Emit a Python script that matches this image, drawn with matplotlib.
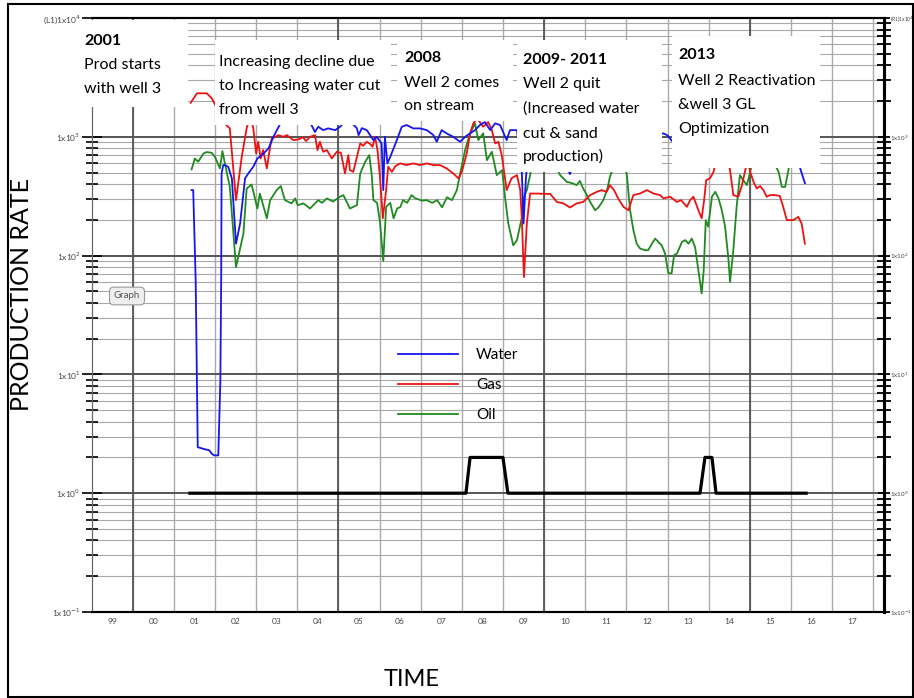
import matplotlib
matplotlib.use("Agg")
import matplotlib.pyplot as plt
from matplotlib.patches import Rectangle
from matplotlib.ticker import LogLocator, FuncFormatter, NullFormatter
import numpy as np

# ---- data ----
oil_t = [2001.43, 2001.51, 2001.59, 2001.72, 2001.80, 2001.92, 2002.00, 2002.12, 2002.18, 2002.24,
         2002.36, 2002.51, 2002.69, 2002.77, 2002.89, 2003.03, 2003.09, 2003.26, 2003.34, 2003.50,
         2003.60, 2003.70, 2003.86, 2003.95, 2004.01, 2004.15, 2004.31, 2004.51, 2004.60, 2004.72,
         2004.87, 2005.04, 2005.12, 2005.24, 2005.28, 2005.45, 2005.53, 2005.65, 2005.75, 2005.81,
         2005.85, 2005.94, 2006.01, 2006.09, 2006.16, 2006.26, 2006.34, 2006.43, 2006.50, 2006.57,
         2006.67, 2006.78, 2006.86, 2007.03, 2007.15, 2007.28, 2007.40, 2007.52, 2007.64, 2007.76,
         2007.88, 2007.96, 2008.08, 2008.15, 2008.24, 2008.32, 2008.40, 2008.52, 2008.61, 2008.73,
         2008.85, 2008.98, 2009.05, 2009.13, 2009.25, 2009.34, 2009.46, 2009.51, 2009.58, 2009.66,
         2009.78, 2010.03, 2010.19, 2010.39, 2010.55, 2010.68, 2010.79, 2010.87, 2010.95, 2011.04,
         2011.12, 2011.24, 2011.32, 2011.44, 2011.54, 2011.60, 2011.70, 2011.85, 2012.01, 2012.09,
         2012.17, 2012.25, 2012.33, 2012.45, 2012.53, 2012.62, 2012.70, 2012.78, 2012.86, 2012.94,
         2013.02, 2013.10, 2013.16, 2013.23, 2013.35, 2013.43, 2013.51, 2013.59, 2013.67, 2013.75,
         2013.83, 2013.88, 2013.93, 2013.99, 2014.08, 2014.16, 2014.24, 2014.32, 2014.40, 2014.48,
         2014.52, 2014.60, 2014.68, 2014.76, 2014.84, 2014.93, 2015.01, 2015.13, 2015.30, 2015.49,
         2015.70, 2015.78, 2015.86, 2015.94, 2016.03]
oil = [531, 657, 616, 724, 744, 733, 678, 542, 758, 597,
       379, 80, 153, 367, 397, 249, 333, 206, 293, 356,
       385, 293, 275, 303, 266, 275, 249, 293, 278, 303,
       285, 313, 323, 266, 249, 266, 492, 616, 701, 476,
       293, 278, 192, 90, 257, 278, 206, 250, 255, 293,
       278, 323, 305, 290, 293, 278, 293, 255, 310, 293,
       356, 492, 773, 938, 1138, 1297, 938, 1069, 636, 748,
       476, 524, 310, 186, 122, 135, 210, 310, 356, 476,
       773, 938, 636, 476, 418, 407, 392, 425, 367, 323,
       283, 241, 254, 293, 367, 460, 578, 773, 485, 241,
       164, 126, 115, 111, 111, 126, 139, 130, 122, 104,
       71, 71, 101, 104, 130, 135, 126, 139, 118, 75,
       48, 75, 199, 175, 313, 344, 303, 241, 175, 94,
       60, 111, 257, 476, 432, 392, 507, 773, 938, 701,
       507, 379, 379, 524, 938]

gas_t = [2001.41, 2001.56, 2001.80, 2001.92, 2002.07, 2002.27, 2002.36, 2002.51, 2002.65, 2002.77,
         2002.85, 2002.93, 2003.00, 2003.05, 2003.11, 2003.17, 2003.26, 2003.34, 2003.38, 2003.46,
         2003.54, 2003.66, 2003.75, 2003.82, 2003.90, 2004.03, 2004.14, 2004.21, 2004.31, 2004.43,
         2004.49, 2004.55, 2004.63, 2004.72, 2004.84, 2004.96, 2005.06, 2005.16, 2005.24, 2005.28,
         2005.36, 2005.45, 2005.53, 2005.60, 2005.69, 2005.77, 2005.83, 2005.89, 2005.95, 2006.01,
         2006.08, 2006.16, 2006.21, 2006.30, 2006.38, 2006.50, 2006.66, 2006.82, 2006.98, 2007.15,
         2007.31, 2007.47, 2007.63, 2007.79, 2007.92, 2008.00, 2008.12, 2008.20, 2008.28, 2008.37,
         2008.52, 2008.64, 2008.73, 2008.81, 2008.89, 2008.97, 2009.09, 2009.21, 2009.34, 2009.42,
         2009.46, 2009.51, 2009.58, 2009.66, 2009.78, 2010.15, 2010.31, 2010.47, 2010.63, 2010.79,
         2010.95, 2011.12, 2011.28, 2011.40, 2011.52, 2011.60, 2011.70, 2011.80, 2011.93, 2012.05,
         2012.17, 2012.33, 2012.50, 2012.66, 2012.82, 2012.90, 2013.06, 2013.23, 2013.33, 2013.47,
         2013.55, 2013.63, 2013.75, 2013.83, 2013.89, 2013.94, 2014.03, 2014.12, 2014.23, 2014.38,
         2014.52, 2014.60, 2014.72, 2014.81, 2014.89, 2014.95, 2015.01, 2015.09, 2015.17, 2015.25,
         2015.33, 2015.41, 2015.49, 2015.61, 2015.73, 2015.80, 2015.90, 2016.06, 2016.18, 2016.26,
         2016.34]
gas = [1932, 2323, 2323, 2110, 1680, 1256, 1177, 293, 678, 1183,
       1524, 1183, 724, 908, 657, 773, 542, 824, 970, 995,
       1033, 1000, 1033, 988, 938, 951, 995, 920, 1000, 1033,
       773, 908, 748, 773, 657, 748, 733, 492, 701, 524,
       507, 678, 880, 840, 908, 870, 824, 1000, 773, 460,
       206, 356, 559, 507, 565, 597, 578, 597, 578, 597,
       578, 578, 542, 492, 446, 507, 724, 1069, 1297, 1430,
       1215, 1330, 1138, 880, 908, 701, 356, 448, 476, 356,
       199, 66, 186, 333, 333, 330, 283, 275, 254, 275,
       283, 323, 344, 356, 344, 392, 356, 303, 257, 241,
       323, 333, 356, 333, 323, 303, 313, 283, 293, 257,
       293, 313, 241, 206, 293, 432, 446, 507, 773, 938,
       524, 323, 313, 392, 524, 636, 507, 418, 367, 385,
       356, 313, 323, 323, 318, 266, 199, 199, 212, 186,
       126]

water_t = [2001.43, 2001.47, 2001.53, 2001.58, 2001.76, 2001.86, 2001.92, 2001.98, 2002.08, 2002.13,
           2002.15, 2002.16, 2002.20, 2002.24, 2002.32, 2002.41, 2002.51, 2002.61, 2002.73, 2002.81,
           2002.93, 2003.03, 2003.14, 2003.30, 2003.42, 2003.53, 2003.70, 2003.95, 2004.19, 2004.43,
           2004.51, 2004.63, 2004.75, 2004.92, 2005.04, 2005.23, 2005.45, 2005.49, 2005.57, 2005.69,
           2005.85, 2005.93, 2006.05, 2006.09, 2006.13, 2006.19, 2006.26, 2006.34, 2006.42, 2006.54,
           2006.66, 2006.82, 2006.98, 2007.15, 2007.31, 2007.39, 2007.51, 2007.63, 2007.79, 2007.96,
           2008.08, 2008.20, 2008.32, 2008.44, 2008.56, 2008.69, 2008.81, 2008.93, 2009.09, 2009.17,
           2009.34, 2009.46, 2009.50, 2009.56, 2009.66, 2009.90, 2010.15, 2010.39, 2010.53, 2010.63,
           2010.73, 2011.00, 2011.37, 2011.73, 2012.09, 2012.45, 2012.70, 2012.90, 2012.99, 2013.06,
           2013.11, 2013.30, 2013.79, 2014.28, 2014.76, 2015.25, 2015.73, 2016.10, 2016.20, 2016.34]
water = [356, 356, 62, 2.44, 2.34, 2.30, 2.15, 2.08, 2.08, 8.9,
         62, 492, 578, 578, 559, 446, 126, 186, 446, 492,
         559, 657, 701, 798, 1000, 1183, 1524, 1430, 1600, 1098,
         1215, 1138, 1177, 1138, 1215, 1430, 1177, 1033, 1183, 1138,
         938, 1000, 880, 356, 1000, 597, 678, 798, 938, 1215,
         1256, 1177, 1177, 1138, 1033, 908, 1138, 1069, 1000, 908,
         1000, 1069, 1138, 1256, 1330, 1138, 1297, 1256, 938, 1138,
         1138, 492, 186, 460, 938, 1138, 1183, 938, 578, 485,
         636, 1033, 1138, 938, 1183, 1100, 1033, 1069, 1033, 970,
         920, 1033, 1256, 1138, 1183, 1033, 1138, 938, 578, 407]

wells_t = [2001.39, 2008.10, 2008.20, 2009.00, 2009.12, 2013.79, 2013.91, 2014.08, 2014.18, 2016.37]
wells = [1, 1, 2, 2, 1, 1, 2, 2, 1, 1]

year_labels = ["99", "00", "01", "02", "03", "04", "05", "06", "07", "08",
               "09", "10", "11", "12", "13", "14", "15", "16", "17"]
series_names = ["Water", "Gas", "Oil"]

notes = [
    (84, ["2001", "Prod starts", "with well 3"], [45, 69, 93]),
    (219, ["Increasing decline due", "to Increasing water cut", "from well 3"], [66, 90, 114]),
    (404, ["2008", "Well 2 comes", "on stream"], [62, 87, 110]),
    (523, ["2009- 2011", "Well 2 quit", "(Increased water", "cut & sand", "production)"],
     [64, 88, 113, 138, 161]),
    (678, ["2013", "Well 2 Reactivation", "&well 3 GL", "Optimization"], [59, 85, 109, 133]),
]
# white boxes behind the notes (pixel x0, y0, x1, y1)
note_boxes = [(80, 20, 188, 107), (215, 40, 391, 125), (397, 40, 513, 121),
              (517, 40, 662, 172), (672, 36, 820, 168)]

W, H = 914, 698
plt.rcParams['font.family'] = ['Lato', 'DejaVu Sans']


def fx(px):
    return px / W


def fy(py):
    return 1 - py / H


fig = plt.figure(figsize=(W / 100, H / 100), dpi=100)
ax = fig.add_axes([fx(91.6), fy(612), (884.3 - 91.6) / W, (612 - 18) / H])
ax.set_yscale('log')
ax.set_ylim(0.1, 1e4)
ax.set_xlim(1999, 2018.27)

# grid
ax.yaxis.set_major_locator(LogLocator(base=10, numticks=10))
ax.yaxis.set_minor_locator(LogLocator(base=10, subs=np.arange(2, 10), numticks=100))
ax.set_xticks(np.arange(2000, 2019))
ax.set_xticklabels([])
ax.set_xticks(np.arange(1999, 2018) + 0.5, year_labels, minor=True)
ax.grid(which='major', axis='x', color='#aaaaaa', lw=1.0)
ax.grid(which='major', axis='y', color='#555555', lw=1.4)
ax.grid(which='minor', axis='y', color='#a8a8a8', lw=0.8)
for yr in (2000, 2005, 2010, 2015):
    ax.axvline(yr, color='#555555', lw=1.3, zorder=0.6)
ax.set_axisbelow(True)

ax.tick_params(axis='x', which='both', length=0)
ax.tick_params(axis='x', which='minor', labelsize=6, labelcolor='#444444', pad=4)


def left_fmt(v, pos):
    e = int(round(np.log10(v)))
    s = "1x10$^{%d}$" % e
    return "(L1)" + s if e == 4 else s


def right_fmt(v, pos):
    e = int(round(np.log10(v)))
    s = "1x10$^{%d}$" % e
    return "(R1)" + s if e == 4 else s


ax.yaxis.set_major_formatter(FuncFormatter(left_fmt))
ax.yaxis.set_minor_formatter(NullFormatter())
ax.tick_params(axis='y', which='major', direction='inout', length=14, width=1.2,
               labelsize=6, labelcolor='#444444', pad=1)
ax.tick_params(axis='y', which='minor', direction='inout', length=9, width=1.2)

ax2 = ax.twinx()
ax2.set_yscale('log')
ax2.set_ylim(0.1, 1e4)
ax2.yaxis.set_major_locator(LogLocator(base=10, numticks=10))
ax2.yaxis.set_minor_locator(LogLocator(base=10, subs=np.arange(2, 10), numticks=100))
ax2.yaxis.set_major_formatter(FuncFormatter(right_fmt))
ax2.yaxis.set_minor_formatter(NullFormatter())
ax2.tick_params(axis='y', which='major', direction='inout', length=8, width=1.3,
                labelsize=4.5, labelcolor='#444444', pad=0.3)
ax2.tick_params(axis='y', which='minor', direction='inout', length=10, width=1.3)

for a in (ax, ax2):
    a.spines['top'].set_linewidth(1.5)
    a.spines['bottom'].set_linewidth(1.5)
    a.spines['left'].set_color('#666666')
    a.spines['right'].set_linewidth(2.2)

# series
ax.plot(wells_t, wells, color='black', lw=2.3, zorder=3)
l_oil, = ax.plot(oil_t, oil, color='#1f8a1f', lw=1.3, zorder=3)
l_gas, = ax.plot(gas_t, gas, color='#ee1111', lw=1.3, zorder=3)
l_wat, = ax.plot(water_t, water, color='#1515ee', lw=1.3, zorder=3)

ax.legend([l_wat, l_gas, l_oil], series_names, loc='upper left',
          bbox_to_anchor=(fx(398), fy(348)), bbox_transform=fig.transFigure,
          frameon=False, fontsize=11, handlelength=3.9, handletextpad=1.2,
          labelspacing=1.05, borderpad=0, borderaxespad=0)

# note boxes and text
for (x0, y0, x1, y1) in note_boxes:
    fig.add_artist(Rectangle((fx(x0), fy(y1)), (x1 - x0) / W, (y1 - y0) / H,
                             transform=fig.transFigure, facecolor='white',
                             edgecolor='none', zorder=5))
for x, lines, bases in notes:
    for i, (txt, b) in enumerate(zip(lines, bases)):
        fig.text(fx(x), fy(b), txt, fontsize=11.5, va='baseline', ha='left',
                 fontweight='bold' if i == 0 and txt[0].isdigit() else 'normal',
                 zorder=6)

fig.text(fx(127), fy(296), "Graph", fontsize=7, color='#555555', ha='center', va='center',
         bbox=dict(boxstyle='round,pad=0.45', fc='#eeeeee', ec='#999999', lw=0.8), zorder=6)

fig.text(fx(22), fy(295), "PRODUCTION RATE", rotation=90, fontsize=18,
         ha='center', va='center')
fig.text(fx(412), fy(679), "TIME", fontsize=17, ha='center', va='center')

fig.add_artist(Rectangle((fx(8), fy(697)), (913 - 8) / W, (697 - 4) / H,
                         transform=fig.transFigure, fill=False, edgecolor='black',
                         lw=1.5, zorder=7))

fig.canvas.draw()
for lbl in ax2.get_yticklabels():
    if lbl.get_text().startswith("(R1)"):
        lbl.set_fontsize(3.6)

fig.savefig("out.png", dpi=100)
